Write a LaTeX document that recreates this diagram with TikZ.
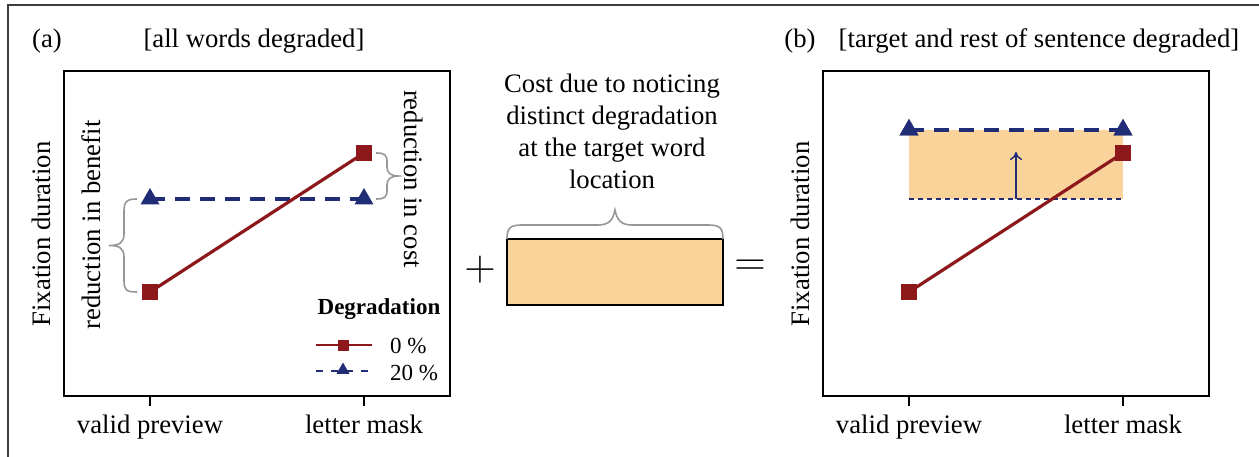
\documentclass[tikz,border=0pt]{standalone}
\usepackage{fontspec}
\setmainfont{Liberation Serif}
\usetikzlibrary{shapes.geometric,arrows.meta,backgrounds}
\definecolor{dred}{RGB}{140,24,28}
\definecolor{navy}{RGB}{32,44,118}
\definecolor{peach}{RGB}{250,211,155}
\definecolor{bracegray}{RGB}{150,150,150}
\definecolor{framegray}{RGB}{60,60,60}
\tikzset{
  sqmark/.style={rectangle, fill=dred, minimum size=16pt, inner sep=0},
  trimark/.style={regular polygon, regular polygon sides=3, fill=navy, minimum size=22pt, inner sep=0},
  sqsmall/.style={sqmark, minimum size=11pt},
  trismall/.style={trimark, minimum size=15pt},
  redline/.style={dred, line width=3.2pt},
  blueline/.style={navy, line width=3.2pt, dash pattern=on 15pt off 10pt},
  bluelegend/.style={navy, line width=2pt, dash pattern=on 7pt off 8pt},
  bluethin/.style={navy, line width=1.4pt, dash pattern=on 5pt off 4pt},
  plotbox/.style={draw=black, line width=1.4pt},
  brc/.style={bracegray, line width=1.6pt},
  big/.style={font=\fontsize{26.7}{32}\selectfont, inner sep=0},
  leg/.style={font=\fontsize{23}{26}\selectfont, inner sep=0},
  opsym/.style={font=\fontsize{20}{20}\selectfont, inner sep=0, scale=2.1},
}
\begin{document}
\begin{tikzpicture}[x=1pt,y=-1pt]
\useasboundingbox (0,0) rectangle (1259,457);
% outer frame
\draw[framegray, line width=1.3pt] (8,460) -- (8,5) -- (1262,5);

% ---------------- panel (a) ----------------
\node[big, anchor=base] (la) at (47,48) {(a)};
\node[big, anchor=base] (ta) at (254,48) {[all words degraded]};
\draw[plotbox] (64,71) rectangle (450,396);
\draw[line width=1.4pt] (150,396) -- (150,406);
\draw[line width=1.4pt] (364,396) -- (364,406);
\node[big, anchor=base] (xa1) at (150,433) {valid preview};
\node[big, anchor=base] (xa2) at (364,433) {letter mask};
\node[big, rotate=90] (ya) at (41,234) {Fixation duration};
\node[big, rotate=90] (rb) at (91,225) {reduction in benefit};
\node[big, rotate=-90] (rc) at (414,179) {reduction in cost};

\node[sqmark] (sa1) at (150,292) {};
\node[sqmark] (sa2) at (364,153) {};
\node[trimark] (tra1) at (150,199) {};
\node[trimark] (tra2) at (364,199) {};
\begin{pgfonlayer}{background}
  \draw[blueline] (tra1.center) -- (tra2.center);
  \draw[redline] (sa1.center) -- (sa2.center);
\end{pgfonlayer}

% braces
\draw[brc] (137,199) .. controls (126,199) and (124,202) .. (124,212) -- (124,234)
  .. controls (124,243) and (119,245.5) .. (109,245.5)
  .. controls (119,245.5) and (124,248) .. (124,257) -- (124,280)
  .. controls (124,290) and (126,292) .. (137,292);
\draw[brc] (376,153) .. controls (385,153) and (387,155) .. (387,162) -- (387,167)
  .. controls (387,173) and (391,176) .. (398,176)
  .. controls (391,176) and (387,179) .. (387,185) -- (387,190)
  .. controls (387,197) and (385,199) .. (376,199);

% legend
\node[leg, font=\bfseries\fontsize{23}{26}\selectfont, anchor=base] (lgt) at (379,314) {Degradation};
\coordinate (lr1) at (316,345);
\coordinate (lr2) at (372,345);
\coordinate (lb1) at (316,371);
\coordinate (lb2) at (372,371);
\draw[dred, line width=2pt] (lr1) -- (lr2);
\draw[bluelegend] (lb1) -- (lb2);
\node[sqsmall] (lsq) at (343,345) {};
\node[trismall] (ltr) at (343,370) {};
\node[leg, anchor=base west] (l0) at (390,353) {0 \%};
\node[leg, anchor=base west] (l20) at (390,380) {20 \%};

% ---------------- middle ----------------
\node[big, align=center, anchor=north] (cost) at (612,74) {Cost due to noticing\\distinct degradation\\at the target word\\location};
\draw[black, line width=1.4pt, fill=peach] (507,239) rectangle (723,305);
\draw[brc] (507,239) .. controls (507,228) and (510,225) .. (522,225) -- (598,225)
  .. controls (609,225) and (613,220) .. (615,210)
  .. controls (617,220) and (621,225) .. (632,225) -- (708,225)
  .. controls (720,225) and (723,228) .. (723,239);
\node[opsym] (plus) at (480,270) {$+$};
\node[opsym] (eq) at (750,268) {$=$};

% ---------------- panel (b) ----------------
\node[big, anchor=base] (lb) at (800,48) {(b)};
\node[big, anchor=base] (tb) at (1039,48) {[target and rest of sentence degraded]};
\draw[plotbox] (823,71) rectangle (1209,396);
\draw[line width=1.4pt] (909,396) -- (909,406);
\draw[line width=1.4pt] (1123,396) -- (1123,406);
\node[big, anchor=base] (xb1) at (909,433) {valid preview};
\node[big, anchor=base] (xb2) at (1123,433) {letter mask};
\node[big, rotate=90] (yb) at (800,234) {Fixation duration};

\coordinate (d1) at (909,199);
\coordinate (d2) at (1123,199);
\coordinate (ar1) at (1016,199);
\coordinate (ar2) at (1016,152);
\fill[peach] (909,130) rectangle (d2);
\draw[bluethin] (d1) -- (d2);
\draw[navy, line width=1.4pt, -{To[length=8pt,width=12pt]}] (ar1) -- (ar2);

\node[sqmark] (sb1) at (909,292) {};
\node[sqmark] (sb2) at (1123,153) {};
\node[trimark] (trb1) at (909,130) {};
\node[trimark] (trb2) at (1123,130) {};
\draw[blueline] (trb1.center) -- (trb2.center);
\node[trimark] at (trb1) {};
\node[trimark] at (trb2) {};
\draw[redline] (sb1.center) -- (sb2.center);
\node[sqmark] at (sb1) {};
\node[sqmark] at (sb2) {};
\end{tikzpicture}
\end{document}
